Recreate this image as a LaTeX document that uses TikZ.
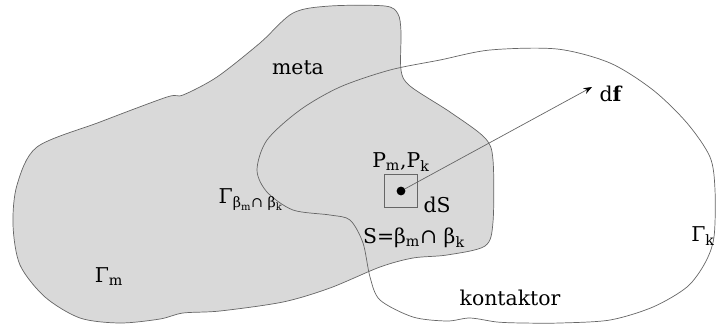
\documentclass[tikz,border=0pt]{standalone}
\usepackage{fontspec}
\setmainfont{DejaVu Serif}
\usepackage{tikz}
\usetikzlibrary{positioning, arrows.meta}
\tikzset{
x=0.025cm, y=-0.025cm, % one unit is one pixel of the sketch
every node/.style={font=\fontsize{14.5}{17}\selectfont, inner sep=1pt}, % text of all labels
outline/.style={draw=black!60, line width=0.5pt}, % edges of both bodies
area/.style={outline, minimum size=0.825cm}, % the small square dS
force/.style={outline, -{Stealth[black, length=6pt, width=4.5pt]}}, % the force vector
}
\def\metapath{plot[smooth cycle, tension=0.5] coordinates {
(293,13) (330,6) (385,6) (398,14) (401,32) (401,70) (410,86) (450,112)
(485,138) (493,160) (493,222) (485,246) (447,255) (413,258) (380,267)
(330,288) (283,302) (220,311) (183,313) (160,319) (120,323) (80,318)
(45,297) (20,265) (13,225) (17,185) (37,147) (100,122) (167,97) (183,95)
(217,77) (260,43)}}
\def\kontaktorpath{plot[smooth cycle, tension=0.5] coordinates {
(340,87) (390,70) (440,60) (490,50) (557,49) (610,63) (653,90) (687,123)
(710,157) (715,190) (714,237) (705,263) (687,287) (653,307) (610,320)
(560,323) (523,323) (497,322) (470,318) (447,321) (413,317) (380,300)
(370,277) (363,243) (350,220) (330,215) (293,210) (267,192) (257,170)
(267,140) (300,110)}}
\def\bounding{(0,0) rectangle (716,325)}

\begin{document}
\begin{tikzpicture}
    \useasboundingbox \bounding;

    \filldraw[outline, fill=black!15] \metapath;
    \draw[outline] \kontaktorpath;

    % labels of the bodies
    \node (meta) at (298,68) {meta};
    \node (kontaktor) at (510,298) {kontaktor};
    \node (gammam) at (109,277) {Γ\textsubscript{m}};
    \node (gammak) at (703,236) {Γ\textsubscript{k}};
    \node (gammaint) at (251,200) {Γ\textsubscript{β\textsubscript{m}∩ β\textsubscript{k}}};

    % contact point and its force
    \node[area] (square) at (401,191) {};
    \node[circle, fill=black, inner sep=0pt, minimum size=0.22cm] (point) at (square) {};
    \node[above=1pt of square] (pmpk) {P\textsubscript{m},P\textsubscript{k}};
    \node[anchor=base west] (ds) at (422,212) {dS};
    \node (surface) at (414,238) {S=β\textsubscript{m}∩ β\textsubscript{k}};
    \node[anchor=west] (df) at (598,94) {d\textbf{f}};
    \coordinate (tip) at (592,87);
    \draw[force] (point) -- (tip);

\end{tikzpicture}
\end{document}
